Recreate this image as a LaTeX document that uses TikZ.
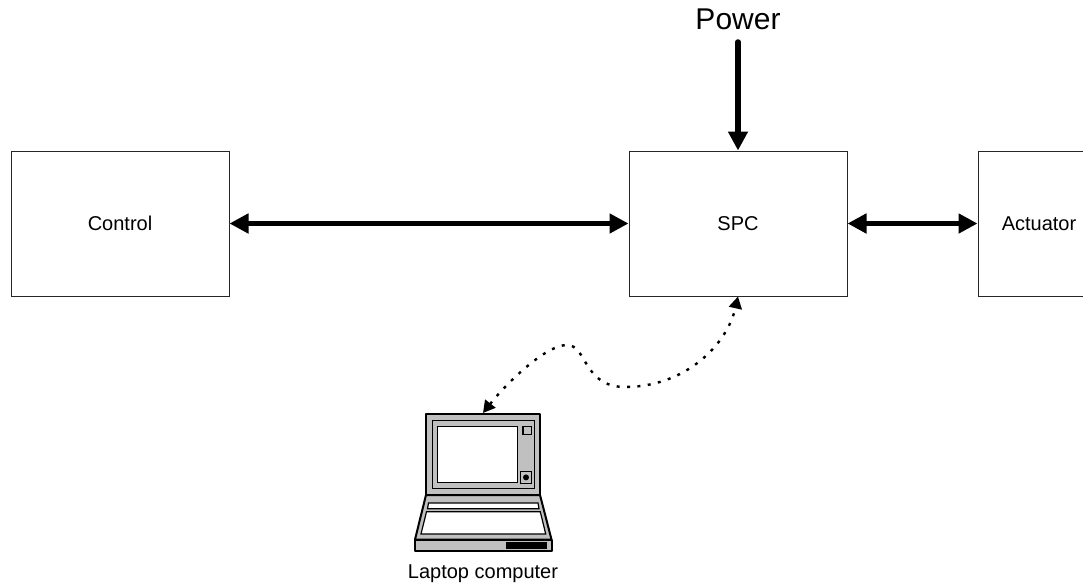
\documentclass[tikz,border=0pt]{standalone}
\usepackage{fontspec}
\setmainfont{Liberation Sans}
\usetikzlibrary{arrows.meta}
\definecolor{lapgray}{HTML}{C0C0C0}
\tikzset{
  block/.style={draw=black!85,line width=1pt,fill=white,minimum height=145pt,inner sep=0pt,font=\fontsize{20pt}{24pt}\selectfont},
  thickarrow/.style={line width=5.5pt,draw=black},
  bighead/.tip={Triangle[length=19pt,width=19pt]},
  linkcurve/.style={line width=2.4pt,dash pattern=on 3pt off 7.4pt,{Triangle[length=12pt,width=13pt]}-{Triangle[length=12pt,width=13pt]}},
  lapline/.style={draw=black,line width=1.2pt},
  lapbold/.style={draw=black,line width=2pt,line join=round}
}
\begin{document}
\begin{tikzpicture}[x=1pt,y=-1pt]
\useasboundingbox (0,0) rectangle (1083,583);
\node[block,minimum width=218pt] (control) at (120,223.5) {Control};
\node[block,minimum width=218pt] (spc) at (738,223.5) {SPC};
\node[block,minimum width=122pt] (actuator) at (1039,223.5) {Actuator};
\node[font=\fontsize{30pt}{36pt}\selectfont,inner sep=0pt] (power) at (738,19.5) {Power};
\coordinate (powerstart) at (738,42);
\draw[thickarrow,line cap=round,-{bighead}] (powerstart) -- (spc.north);
\draw[thickarrow,{bighead}-{bighead}] (control.east) -- (spc.west);
\draw[thickarrow,{bighead}-{bighead}] (spc.east) -- (actuator.west);
% laptop
\draw[lapbold,fill=lapgray] (426,495) -- (415,539.5) -- (551.5,539.5) -- (540,495) -- cycle;
\draw[lapbold,fill=lapgray] (415,539.5) rectangle (551.5,551);
\fill[black] (505.7,542.3) rectangle (546.7,548.7);
\draw[lapline,fill=white] (428.5,503) -- (538,503) -- (539,508.7) -- (427.5,508.7) -- cycle;
\draw[lapline,fill=white] (426.5,511.7) -- (540.3,511.7) -- (545.7,534) -- (421,534) -- cycle;
\node[lapbold,fill=lapgray,minimum width=114pt,minimum height=81pt,inner sep=0pt] (lid) at (483,454.5) {};
\draw[lapline] (432.3,420.7) rectangle (534.7,488.7);
\draw[lapline,fill=white] (437.7,426.3) rectangle (517.7,482.7);
\draw[lapline] (523,426.3) rectangle (531.7,434.7);
\draw[lapline] (520.3,471.7) rectangle (531.7,483.3);
\fill[black] (526,477.4) circle (3pt);
\node[font=\fontsize{20pt}{24pt}\selectfont,inner sep=0pt] (laptoplabel) at (483,574) {Laptop computer};
\draw[linkcurve] (lid.north) .. controls (505,385) and (545,345) .. (567,345)
  .. controls (587,345) and (583,387) .. (625,387)
  .. controls (685,387) and (727,345) .. (spc.south);
\end{tikzpicture}
\end{document}
